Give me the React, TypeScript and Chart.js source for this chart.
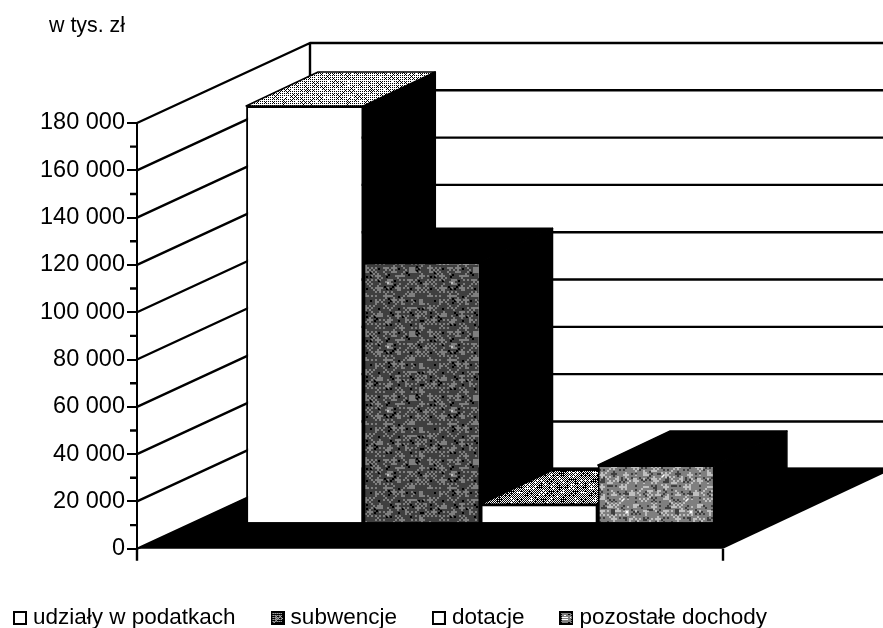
import React, { useEffect, useRef } from "react";
import { Chart, registerables } from "chart.js";

Chart.register(...registerables);

const categories = ["dochody"];
const seriesNames = ["udziały w podatkach", "subwencje", "dotacje", "pozostałe dochody"];
const udzialy = [176400];
const subwencje = [110300];
const dotacje = [8000];
const pozostale = [24600];
const yTickStep = 20000;
const yMax = 180000;
const unitLabel = "w tys. zł";

const FONT = "'Liberation Sans', Arial, sans-serif";
const BAYER = [
  [0, 8, 2, 10],
  [12, 4, 14, 6],
  [3, 11, 1, 9],
  [15, 7, 13, 5],
];

// Print-like halftone texture: an ordered dither whose density wanders a little.
function dither(density: number, wander: number) {
  const size = 64;
  const c = document.createElement("canvas");
  c.width = size;
  c.height = size;
  const g = c.getContext("2d")!;
  g.fillStyle = "#000";
  g.fillRect(0, 0, size, size);
  g.fillStyle = "#fff";
  const w = (2 * Math.PI) / size;
  let seed = 20231;
  for (let y = 0; y < size; y++)
    for (let x = 0; x < size; x++) {
      seed = (seed * 1103515245 + 12345) & 0x7fffffff;
      const grain = ((seed >> 8) % 1000) / 1000 - 0.5;
      const d =
        density +
        wander * Math.cos(x * w * 3 + 1) * Math.cos(y * w * 5) +
        wander * 0.8 * Math.cos(x * w * 7) * Math.cos(y * w * 2 + 2) +
        wander * 1.2 * grain;
      if (BAYER[y % 4][x % 4] / 16 < d) g.fillRect(x, y, 1, 1);
    }
  return c;
}

function swatch(fill: string | CanvasPattern) {
  const c = document.createElement("canvas");
  c.width = 14;
  c.height = 14;
  const g = c.getContext("2d")!;
  g.fillStyle = fill as any;
  g.fillRect(0, 0, 14, 14);
  g.strokeStyle = "#000";
  g.lineWidth = 2;
  g.strokeRect(1, 1, 12, 12);
  return c;
}

const WALL = { dx: 173, dy: -80 };
const SHIFT = { dx: 50.5, dy: -25.5 };
const DEPTH = { dx: 72, dy: -34 };

export default function App() {
  const ref = useRef<HTMLCanvasElement>(null);
  useEffect(() => {
    const canvas = ref.current!;
    const ctx = canvas.getContext("2d")!;
    const pat = (d: number, w: number) => ctx.createPattern(dither(d, w), "repeat")!;
    const front = ["#ffffff", pat(0.28, 0.12), "#ffffff", pat(0.5, 0.16)];
    const tops: (string | CanvasPattern)[] = [pat(0.68, 0.08), "#000000", pat(0.45, 0.14), "#000000"];
    const swatches = front.map((f) => swatch(f as any));
    const values = [udzialy, subwencje, dotacje, pozostale];

    const scene = {
      id: "scene3d",
      afterLayout(chart: any) {
        if (chart.legend) {
          chart.legend.left = -22;
          chart.legend.top = 566.5;
          chart.legend.bottom = 700;
          chart.legend.right = 883;
          chart.legend.height = 133.5;
        }
        if (chart.titleBlock) {
          chart.titleBlock.left = 49;
          chart.titleBlock.top = 13;
        }
      },
      beforeDatasetsDraw(chart: any) {
        const g = chart.ctx;
        const { left, right, top, bottom } = chart.chartArea;
        const y = chart.scales.y;
        g.save();
        g.strokeStyle = "#000";
        g.lineWidth = 2.4;
        g.lineCap = "butt";
        g.lineJoin = "round";
        g.beginPath();
        g.moveTo(left + WALL.dx, top + WALL.dy);
        g.lineTo(left + WALL.dx, bottom + WALL.dy);
        y.ticks.forEach((t: any) => {
          const p = y.getPixelForValue(t.value);
          g.moveTo(left, p);
          g.lineTo(left + WALL.dx, p + WALL.dy);
          g.lineTo(chart.width, p + WALL.dy);
          const mid = y.getPixelForValue(t.value + yTickStep / 2);
          if (t.value < yMax) {
            g.moveTo(left - 7, mid);
            g.lineTo(left, mid);
          }
        });
        g.stroke();

        g.fillStyle = "#000";
        g.beginPath();
        g.moveTo(left, bottom);
        g.lineTo(right, bottom);
        g.lineTo(right + WALL.dx, bottom + WALL.dy - 1);
        g.lineTo(left + WALL.dx, bottom + WALL.dy - 1);
        g.closePath();
        g.fill();

        g.beginPath();
        g.moveTo(left, bottom);
        g.lineTo(left, bottom + 12);
        g.moveTo(right, bottom);
        g.lineTo(right, bottom + 12);
        g.stroke();

        g.lineWidth = 1.5;
        chart.data.datasets.forEach((_: any, i: number) => {
          const el = chart.getDatasetMeta(i).data[0];
          const l = el.x - el.width / 2 + SHIFT.dx;
          const r = el.x + el.width / 2 + SHIFT.dx;
          const t = el.y + SHIFT.dy;
          const b = el.base + SHIFT.dy;
          g.fillStyle = "#000";
          g.beginPath();
          g.moveTo(r, t);
          g.lineTo(r + DEPTH.dx, t + DEPTH.dy);
          g.lineTo(r + DEPTH.dx, b + DEPTH.dy);
          g.lineTo(r, b);
          g.closePath();
          g.fill();
          g.stroke();
          g.fillStyle = tops[i];
          g.beginPath();
          g.moveTo(l, t);
          g.lineTo(l + DEPTH.dx, t + DEPTH.dy);
          g.lineTo(r + DEPTH.dx, t + DEPTH.dy);
          g.lineTo(r, t);
          g.closePath();
          g.fill();
          g.stroke();
        });
        g.restore();
        g.save();
        g.translate(SHIFT.dx, SHIFT.dy);
      },
      afterDatasetsDraw(chart: any) {
        chart.ctx.restore();
      },
    };

    const chart = new Chart(canvas, {
      type: "bar",
      data: {
        labels: categories,
        datasets: seriesNames.map((label, i) => ({
          label,
          data: values[i],
          backgroundColor: front[i] as any,
          borderColor: "#000",
          borderWidth: 2,
          clip: false as any,
          categoryPercentage: 0.8,
          barPercentage: 1,
        })),
      },
      options: {
        animation: false,
        responsive: false,
        devicePixelRatio: 1,
        layout: {
          autoPadding: false,
          padding: { top: 97.32, left: 0, right: 0, bottom: 6.5 },
        },
        scales: {
          x: { display: false },
          y: {
            position: "left",
            min: 0,
            max: yMax,
            afterFit: (s: any) => {
              s.width = 137;
            },
            border: { display: true, color: "#000", width: 2 },
            grid: { drawOnChartArea: false, drawTicks: true, tickLength: 10, color: "#000", lineWidth: 2 },
            ticks: {
              stepSize: yTickStep,
              padding: 2,
              color: "#000",
              font: { family: FONT, size: 23.5 },
              callback: (v: any) => String(v).replace(/\B(?=(\d{3})+$)/g, " "),
            },
          },
          y2: {
            position: "right",
            display: true,
            afterFit: (s: any) => {
              s.width = 160;
            },
            border: { display: false },
            grid: { display: false },
            ticks: { display: false },
          },
        },
        plugins: {
          tooltip: { enabled: false },
          title: {
            display: true,
            text: unitLabel,
            align: "start",
            color: "#000",
            padding: 0,
            font: { family: FONT, size: 21.4, weight: "normal", lineHeight: 1.2 },
          },
          legend: {
            display: true,
            position: "bottom",
            align: "start",
            labels: {
              usePointStyle: true,
              pointStyleWidth: 3.5,
              padding: 40.25,
              color: "#000",
              font: { family: FONT, size: 22.5 },
              generateLabels: () =>
                seriesNames.map((text, i) => ({
                  text,
                  pointStyle: swatches[i],
                  datasetIndex: i,
                  hidden: false,
                  fontColor: "#000",
                })) as any,
            },
          },
        },
      } as any,
      plugins: [scene as any],
    });
    return () => chart.destroy();
  }, []);
  return (
    <div style={{ position: "absolute", left: 0, top: 0, width: 883, height: 628 }}>
      <canvas ref={ref} width={883} height={628} style={{ display: "block" }} />
    </div>
  );
}
